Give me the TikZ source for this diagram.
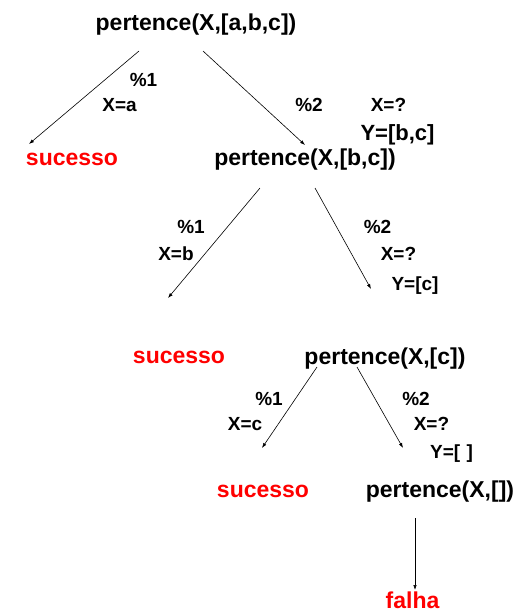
\documentclass[tikz,border=0pt]{standalone}
\usepackage{fontspec}
\setmainfont{Liberation Sans}
\usepackage{xcolor}
\usetikzlibrary{arrows.meta}
\definecolor{okred}{RGB}{255,0,0}

\begin{document}
\begin{tikzpicture}[
  x=1pt, y=-1pt, line width=0.6pt,
  >={Latex[length=5pt,width=3.5pt]},
  goal/.style={inner sep=0pt, anchor=base, font=\fontsize{23}{27}\selectfont\bfseries},
  res/.style={goal, text=okred},
  lbl/.style={inner sep=0pt, anchor=base, font=\fontsize{19}{23}\selectfont\bfseries},
  lblbig/.style={lbl, font=\fontsize{22}{26}\selectfont\bfseries}]
\useasboundingbox (0,0) rectangle (525,616);
% goals
\node[goal] (g0) at (196,30) {pertence(X,[a,b,c])};
\node[res] (s1) at (72,165) {sucesso};
\node[goal] (g1) at (305,165) {pertence(X,[b,c])};
\node[res] (s2) at (179,363) {sucesso};
\node[goal] (g2) at (385,364) {pertence(X,[c])};
\node[res] (s3) at (263,497) {sucesso};
\node[goal] (g3) at (440,497) {pertence(X,[])};
\node[res] (f3) at (412.5,608) {falha};
% clause labels
\node[lbl] (c01) at (143.5,86) {\%1};
\node[lbl] (x01) at (119.5,111) {X=a};
\node[lbl] (c02) at (309,111) {\%2};
\node[lbl] (x02) at (388.5,111) {X=?};
\node[lblbig] (y02) at (397.5,140) {Y=[b,c]};
\node[lbl] (c11) at (191,233) {\%1};
\node[lbl] (x11) at (176,260) {X=b};
\node[lbl] (c12) at (377.5,233) {\%2};
\node[lbl] (x12) at (398.5,260) {X=?};
\node[lbl] (y12) at (415,290) {Y=[c]};
\node[lbl] (c21) at (269,405) {\%1};
\node[lbl] (x21) at (245,430) {X=c};
\node[lbl] (c22) at (416,405) {\%2};
\node[lbl] (x22) at (431.5,430) {X=?};
\node[lbl] (y22) at (451.5,458) {Y=[\,\,]};
% arrow ends
\coordinate (g0l) at (139,51);  \coordinate (s1t) at (29,144);
\coordinate (g0r) at (203,51);  \coordinate (g1t) at (305,145);
\coordinate (g1l) at (260,188); \coordinate (s2t) at (168,298);
\coordinate (g1r) at (315,188); \coordinate (g2t) at (371,289);
\coordinate (g2l) at (317,367); \coordinate (s3t) at (262,448);
\coordinate (g2r) at (357,367); \coordinate (g3t) at (403,448);
\coordinate (g3b) at (415,518); \coordinate (f3t) at (415,590);
\draw[->] (g0l) -- (s1t);
\draw[->] (g0r) -- (g1t);
\draw[->] (g1l) -- (s2t);
\draw[->] (g1r) -- (g2t);
\draw[->] (g2l) -- (s3t);
\draw[->] (g2r) -- (g3t);
\draw[->] (g3b) -- (f3t);
\end{tikzpicture}
\end{document}
